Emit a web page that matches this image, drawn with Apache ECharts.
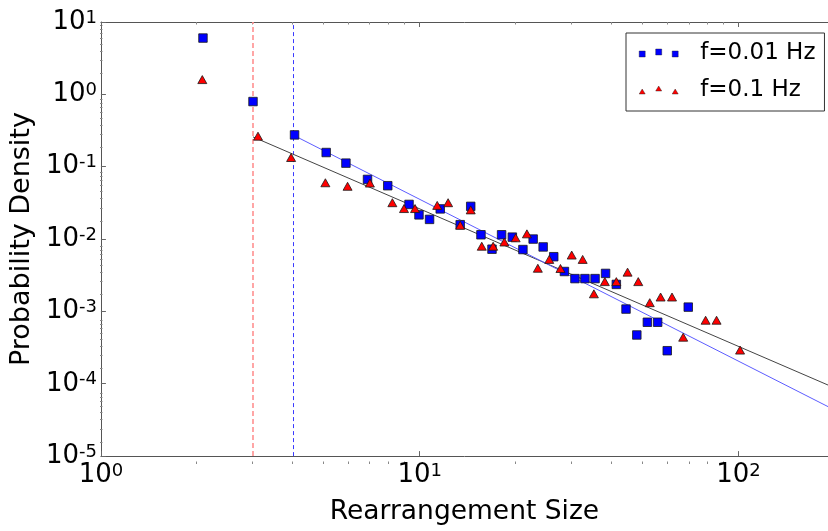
<!DOCTYPE html>
<html>
<head>
<meta charset="utf-8">
<script src="https://cdn.jsdelivr.net/npm/echarts@6/dist/echarts.min.js"></script>
<style>
  html, body { margin: 0; padding: 0; background: #fff; }
  #chart { width: 828px; height: 531px; }
</style>
</head>
<body>
<div id="chart"></div>
<script>
// f=0.01 Hz (blue squares)
const sizeSlow = [2.09, 3.0, 4.05, 5.09, 5.87, 6.86, 7.94, 9.26, 9.95, 10.74, 11.6, 13.4, 14.46,
  15.57, 16.86, 18.07, 19.53, 21.08, 22.7, 24.4, 26.34, 28.45, 30.7, 33.0, 35.5, 38.3, 41.4,
  44.4, 48.0, 51.8, 55.8, 59.8, 69.6];
const densitySlow = [6.0, 0.795, 0.275, 0.157, 0.112, 0.0667, 0.0546, 0.0301, 0.0216, 0.0187,
  0.0261, 0.0158, 0.0283, 0.01146, 0.00724, 0.01146, 0.01063, 0.00716, 0.0100, 0.00778, 0.0057,
  0.00356, 0.00284, 0.00284, 0.00284, 0.00335, 0.00236, 0.001077, 0.000472, 0.000708, 0.000708,
  0.000286, 0.001146];

// f=0.1 Hz (red triangles)
const sizeFast = [2.08, 3.11, 3.95, 5.06, 5.94, 6.98, 8.21, 8.93, 9.67, 11.35, 12.28, 13.4, 14.46,
  15.66, 17.0, 18.44, 20.0, 21.7, 23.48, 25.5, 27.65, 29.99, 32.46, 35.2, 38.1, 41.4, 44.9, 48.5,
  52.7, 57.0, 61.9, 67.1, 78.9, 85.4, 101.2];
const densityFast = [1.6, 0.264, 0.134, 0.060, 0.0536, 0.0594, 0.0318, 0.0264, 0.0264, 0.0292,
  0.0318, 0.0155, 0.0253, 0.00796, 0.00796, 0.0091, 0.0104, 0.0118, 0.00395, 0.00523, 0.00392,
  0.00601, 0.00523, 0.00175, 0.00258, 0.00258, 0.00349, 0.00258, 0.00132, 0.00158, 0.00158,
  0.00044, 0.000755, 0.000755, 0.000292];

// power-law fit lines (end points)
const fitSlowX = [4, 191];
const fitSlowY = [0.275, 4.83e-5];
const fitFastX = [3, 191];
const fitFastY = [0.258, 9.6e-5];

// cut-off sizes (dashed vertical lines)
const cutFast = 3;
const cutSlow = 4;

const xMajor = [1, 10, 100];
const yMajor = [1e-5, 1e-4, 1e-3, 1e-2, 1e-1, 1, 10];
const X_MAX = 191;

const xMinor = [];
[1, 10, 100].forEach(d => { for (let k = 2; k <= 9; k++) if (d * k < X_MAX) xMinor.push(d * k); });
const yMinor = [];
[1e-5, 1e-4, 1e-3, 1e-2, 1e-1, 1].forEach(d => { for (let k = 2; k <= 9; k++) yMinor.push(d * k); });

const zip = (xs, ys) => xs.map((x, i) => [x, ys[i]]);

const FONT = 'DejaVu Sans';
const tickRich = {
  b: { fontSize: 26, lineHeight: 26, padding: [6, 0, 6, 0], fontFamily: FONT, color: '#000' },
  s: { fontSize: 18, lineHeight: 18, verticalAlign: 'top', fontFamily: FONT, color: '#000' }
};
const powLabel = v => '{b|10}{s|' + Math.round(Math.log10(v)) + '}';

const chart = echarts.init(document.getElementById('chart'));

const gridBox = { left: 100, top: 22, right: -2, bottom: 67 };

const logX = (extra) => Object.assign({
  type: 'log', logBase: 10, min: 1, max: X_MAX,
  splitLine: { show: false },
  axisLine: { show: false },
  axisLabel: { show: false },
  axisTick: { show: false }
}, extra);
const logY = (extra) => Object.assign({
  type: 'log', logBase: 10, min: 1e-5, max: 10,
  splitLine: { show: false },
  axisLine: { show: false },
  axisLabel: { show: false },
  axisTick: { show: false }
}, extra);

const option = {
  animation: false,
  backgroundColor: '#fff',
  grid: [
    Object.assign({ show: false }, gridBox),
    Object.assign({ show: false }, gridBox)
  ],
  legend: {
    orient: 'vertical',
    left: 626,
    top: 33,
    padding: [7, 9, 8, 13],
    itemGap: 11,
    itemWidth: 39,
    itemHeight: 8,
    borderColor: '#333',
    borderWidth: 1,
    borderRadius: 0,
    backgroundColor: '#fff',
    itemStyle: { borderWidth: 0.4 },
    textStyle: { fontFamily: FONT, fontSize: 23, lineHeight: 26, color: '#000', padding: [0, 0, 0, 17] },
    data: [
      { name: 'f=0.01 Hz', icon: 'path://M0,2h6v6h-6z M16.5,0h6v6h-6z M33,2h6v6h-6z' },
      { name: 'f=0.1 Hz', icon: 'path://M3,3L6,8H0Z M19.5,0L22.5,5H16.5Z M36,3L39,8H33Z' }
    ]
  },
  xAxis: [
    logX({
      gridIndex: 0, position: 'bottom',
      name: 'Rearrangement Size', nameLocation: 'middle', nameGap: 38,
      nameTextStyle: { fontFamily: FONT, fontSize: 26.5, color: '#000' },
      axisLine: { show: true, lineStyle: { color: '#555', width: 1 } },
      axisTick: { show: true, inside: true, length: 5, customValues: xMajor, lineStyle: { color: '#666' } },
      axisLabel: { show: true, margin: 6, customValues: xMajor, formatter: powLabel, rich: tickRich }
    }),
    logX({
      gridIndex: 0, position: 'top',
      axisLine: { show: true, lineStyle: { color: '#555', width: 1 } },
      axisTick: { show: true, inside: true, length: 5, customValues: xMajor, lineStyle: { color: '#666' } }
    }),
    logX({
      gridIndex: 1, position: 'bottom',
      axisTick: { show: true, inside: true, length: 2.5, customValues: xMinor, lineStyle: { color: '#888' } }
    }),
    logX({
      gridIndex: 1, position: 'top',
      axisTick: { show: true, inside: true, length: 2.5, customValues: xMinor, lineStyle: { color: '#888' } }
    })
  ],
  yAxis: [
    logY({
      gridIndex: 0, position: 'left',
      name: 'Probability Density', nameLocation: 'middle', nameGap: 60,
      nameTextStyle: { fontFamily: FONT, fontSize: 27, color: '#000' },
      axisLine: { show: true, lineStyle: { color: '#555', width: 1 } },
      axisTick: { show: true, inside: true, length: 5, customValues: yMajor, lineStyle: { color: '#666' } },
      axisLabel: { show: true, margin: 4, customValues: yMajor, formatter: powLabel, rich: tickRich }
    }),
    logY({
      gridIndex: 1, position: 'left',
      axisTick: { show: true, inside: true, length: 2.5, customValues: yMinor, lineStyle: { color: '#888' } }
    })
  ],
  series: [
    {
      name: 'fitFast', type: 'line', xAxisIndex: 0, yAxisIndex: 0,
      data: zip(fitFastX, fitFastY), symbol: 'none', silent: true, z: 1,
      lineStyle: { color: '#444', width: 1 },
      markLine: {
        silent: true, symbol: 'none', label: { show: false }, z: 1,
        data: [
          { xAxis: cutFast, lineStyle: { color: '#ff9090', width: 1.6, type: [5, 3] } },
          { xAxis: cutSlow, lineStyle: { color: '#3a3aff', width: 1, type: [4, 3] } }
        ]
      }
    },
    {
      name: 'fitSlow', type: 'line', xAxisIndex: 0, yAxisIndex: 0,
      data: zip(fitSlowX, fitSlowY), symbol: 'none', silent: true, z: 1,
      lineStyle: { color: '#5c5cff', width: 1 }
    },
    {
      name: 'f=0.01 Hz', type: 'scatter', xAxisIndex: 0, yAxisIndex: 0,
      data: zip(sizeSlow, densitySlow), symbol: 'rect', symbolSize: 8.5, z: 3,
      itemStyle: { color: '#0000ff', borderColor: '#1a1a1a', borderWidth: 0.8, opacity: 1 }
    },
    {
      name: 'f=0.1 Hz', type: 'scatter', xAxisIndex: 0, yAxisIndex: 0,
      data: zip(sizeFast, densityFast), symbol: 'triangle', symbolSize: [9, 8], z: 3,
      itemStyle: { color: '#ff0000', borderColor: '#1a1a1a', borderWidth: 0.8, opacity: 1 }
    }
  ]
};

chart.setOption(option);
</script>
</body>
</html>
